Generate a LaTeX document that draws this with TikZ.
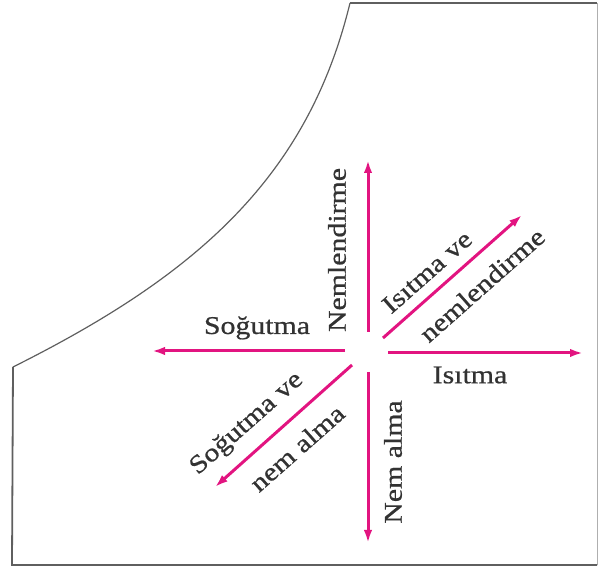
\documentclass[tikz,border=0pt]{standalone}
\usepackage{fontspec}
\setmainfont{Liberation Serif}[FakeStretch=1.17,FakeBold=0.7]
\usetikzlibrary{arrows.meta}
\definecolor{mag}{RGB}{226,20,128}
\definecolor{txt}{RGB}{50,50,50}
\definecolor{frame}{RGB}{95,95,95}
\begin{document}
\begin{tikzpicture}[x=1pt,y=1pt,
  arr/.style={draw=mag,line width=3pt,-{Latex[length=13pt,width=8.5pt]}},
  lbl/.style={text=txt,font=\fontsize{25.5}{30}\selectfont,inner sep=0pt}]
\useasboundingbox (0,0) rectangle (603,570);
% frame
\draw[frame!50,line width=0.8pt] (597,5) -- (597,567);
\draw[frame,line width=1.8pt] (597,567) -- (350,567);
\draw[frame,line width=1.2pt] (350,567) .. controls (307,390) and (193,293) .. (13,203);
\draw[frame,line width=1.8pt] (13,203) -- (12,5) -- (597,5);
% arrow end points
\coordinate (us) at (368,238); \coordinate (ue) at (368,410);
\coordinate (ds) at (368,198); \coordinate (de) at (368,27);
\coordinate (ls) at (345,219); \coordinate (le) at (152,219);
\coordinate (rs) at (388,217); \coordinate (re) at (583,217);
\coordinate (ns) at (383,232); \coordinate (ne) at (522,355);
\coordinate (ss) at (352,205); \coordinate (se) at (215,83);
\draw[arr] (us) -- (ue);
\draw[arr] (ds) -- (de);
\draw[arr] (ls) -- (le);
\draw[arr] (rs) -- (re);
\draw[arr] (ns) -- (ne);
\draw[arr] (ss) -- (se);
% labels
\node[lbl,rotate=90] (nem) at (337,320) {Nemlendirme};
\node[lbl] (sog) at (257,242) {Soğutma};
\node[lbl] (isi) at (470,195) {Isıtma};
\node[lbl,rotate=90] (nal) at (393,108) {Nem alma};
\node[lbl,rotate=41.5] (iv) at (427,298) {Isıtma ve};
\node[lbl,rotate=41.5] (inm) at (482,285) {nemlendirme};
\node[lbl,rotate=41.5] (sv) at (247,146) {Soğutma ve};
\node[lbl,rotate=41.5] (sna) at (297,122) {nem alma};
\end{tikzpicture}
\end{document}
